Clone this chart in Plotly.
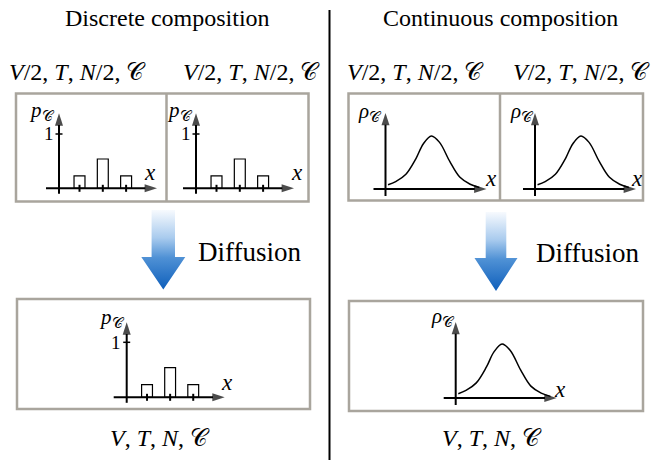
import plotly.graph_objects as go

W, H = 663, 460

# Discrete composition: probability of each species x
species_pos = [1, 2, 3]
species_prob = [0.23, 0.54, 0.23]

# Continuous composition: density sampled along x
density_x = [0.25, 1.0, 2.0, 3.0, 3.7, 4.5, 5.3, 6.3, 7.3, 8.3, 9.2]
density_y = [0.08, 0.14, 0.28, 0.58, 0.85, 1.0, 0.88, 0.52, 0.22, 0.09, 0.03]

column_titles = ["Discrete composition", "Continuous composition"]
half_state = "<i>V</i>/2, <i>T</i>, <i>N</i>/2, 𝒞"
full_state = "<i>V</i>, <i>T</i>, <i>N</i>, 𝒞"
process_label = "Diffusion"
prob_label = "<i>p</i><sub>𝒞</sub>"
dens_label = "<i>ρ</i><sub>𝒞</sub>"
x_label = "<i>x</i>"
unit_tick = "1"

SERIF = "'Liberation Serif', 'DejaVu Serif', serif"
BOX = "#a9a59d"


def px(x):
    return x / W


def py(y):
    return 1 - y / H


fig = go.Figure()
layout = dict(
    width=W, height=H, margin=dict(l=0, r=0, t=0, b=0),
    paper_bgcolor="white", plot_bgcolor="rgba(0,0,0,0)", showlegend=False,
)
shapes = []
annotations = []

# vertical position of the histogram's ordinate axis (data units)
AX0 = 0.12

# kind, ordinate column (px), abscissa row (px), px per unit x, px per unit y, region
panels = [
    ("discrete", 59, 188.3, 23.3, 54.3, (17, 94, 165, 201)),
    ("discrete", 196, 188.3, 23.3, 54.3, (167, 94, 308, 201)),
    ("discrete", 126.7, 397.3, 23.1, 55.0, (18, 300, 309, 408)),
    ("continuous", 385.5, 189, 10.2, 53, (349, 94, 499, 200)),
    ("continuous", 535, 189, 10.2, 53, (501, 94, 642, 200)),
    ("continuous", 455.7, 398, 10.3, 54, (350, 302, 642, 410)),
]


def axis_arrow(xr, yr, xs, ys):
    """Axis line ending in a filled arrowhead at its second point."""
    return go.Scatter(
        x=xs, y=ys, mode="lines+markers", xaxis=xr, yaxis=yr,
        line=dict(color="black", width=2),
        marker=dict(symbol=["circle", "arrow"], size=[0, 13], angleref="previous",
                    color="black", line=dict(width=0)),
        hoverinfo="skip",
    )


for i, (kind, ypx, xpy, sx, sy, (bx0, by0, bx1, by1)) in enumerate(panels, start=1):
    sfx = "" if i == 1 else str(i)
    xr, yr = "x" + sfx, "y" + sfx
    x_origin = AX0 if kind == "discrete" else 0.0
    layout["xaxis" + sfx] = dict(
        domain=[px(bx0), px(bx1)],
        range=[x_origin + (bx0 - ypx) / sx, x_origin + (bx1 - ypx) / sx],
        visible=False, anchor=yr, fixedrange=True,
    )
    layout["yaxis" + sfx] = dict(
        domain=[py(by1), py(by0)],
        range=[(xpy - by1) / sy, (xpy - by0) / sy],
        visible=False, anchor=xr, fixedrange=True,
    )
    if kind == "discrete":
        fig.add_trace(go.Bar(
            x=species_pos, y=species_prob, width=0.47,
            marker=dict(color="white", line=dict(color="black", width=1.2)),
            xaxis=xr, yaxis=yr, hoverinfo="skip",
        ))
        for p in species_pos:
            shapes.append(dict(type="line", xref=xr, yref=yr, x0=p, x1=p,
                               y0=-3.5 / sy, y1=3.5 / sy,
                               line=dict(color="black", width=2)))
        shapes.append(dict(type="line", xref=xr, yref=yr,
                           x0=x_origin - 3.5 / sx, x1=x_origin + 3.5 / sx,
                           y0=1, y1=1, line=dict(color="black", width=1.5)))
        x_tail, x_tip = x_origin - 13 / sx, x_origin + 98 / sx
        y_tail, y_tip = -5.5 / sy, 75 / sy
    else:
        fig.add_trace(go.Scatter(
            x=density_x, y=density_y, mode="lines",
            line=dict(color="black", width=1.5, shape="spline", smoothing=1),
            xaxis=xr, yaxis=yr, hoverinfo="skip",
        ))
        x_tail, x_tip = -12 / sx, 101 / sx
        y_tail, y_tip = -7 / sy, 76 / sy
    fig.add_trace(axis_arrow(xr, yr, [x_tail, x_tip], [0, 0]))
    fig.add_trace(axis_arrow(xr, yr, [x_origin, x_origin], [y_tail, y_tip]))

# full-figure canvas for the process arrows
layout["xaxis7"] = dict(domain=[0, 1], range=[0, W], visible=False, anchor="y7", fixedrange=True)
layout["yaxis7"] = dict(domain=[0, 1], range=[H, 0], visible=False, anchor="x7", fixedrange=True)


def block_arrow(cx, top, neck, tip, shaft_hw, head_hw):
    xs = [cx - shaft_hw, cx + shaft_hw, cx + shaft_hw, cx + head_hw, cx,
          cx - head_hw, cx - shaft_hw, cx - shaft_hw]
    ys = [top, top, neck, neck, tip, neck, neck, top]
    # gradient runs from the tip (dark) up to the tail (pale)
    return go.Scatter(
        x=xs, y=ys, mode="none", fill="toself",
        fillgradient=dict(type="vertical", colorscale=[
            [0.0, "#0f5fbb"], [0.4, "#4f91d5"], [0.65, "#a9cbee"], [1.0, "#f7fafe"]]),
        xaxis="x7", yaxis="y7", hoverinfo="skip",
    )


fig.add_trace(block_arrow(163.3, 210, 257, 289.5, 11.7, 22))
fig.add_trace(block_arrow(496, 212, 258, 291, 10.3, 21.5))

# panel frames
for (x0, y0, x1, y1) in [(16, 93.5, 308.5, 201.5), (348.5, 93.5, 643, 200.5),
                         (17, 299, 310, 409), (349, 301, 643, 411)]:
    shapes.append(dict(type="rect", xref="paper", yref="paper",
                       x0=px(x0), x1=px(x1), y0=py(y1), y1=py(y0),
                       line=dict(color=BOX, width=2.5)))
for (x, y0, y1) in [(166.5, 93.5, 201.5), (500, 93.5, 200.5)]:
    shapes.append(dict(type="line", xref="paper", yref="paper",
                       x0=px(x), x1=px(x), y0=py(y1), y1=py(y0),
                       line=dict(color=BOX, width=2.5)))

# column separator
shapes.append(dict(type="line", xref="paper", yref="paper",
                   x0=px(329.5), x1=px(329.5), y0=py(460), y1=py(10),
                   line=dict(color="black", width=2)))


def label(text, x, y, size):
    annotations.append(dict(
        text=text, x=px(x), y=py(y), xref="paper", yref="paper",
        showarrow=False, xanchor="center", yanchor="middle",
        font=dict(family=SERIF, size=size, color="black"),
    ))


label(column_titles[0], 167, 18, 24)
label(column_titles[1], 500, 18, 24)
for x in (77, 251, 415, 581):
    label(half_state, x, 72, 24)
label(full_state, 160, 438, 24)
label(full_state, 492, 438, 24)
label(process_label, 250, 252, 27)
label(process_label, 588, 253, 27)

for (x, y) in [(42, 111), (180, 111), (112, 318)]:
    label(prob_label, x, y, 21)
for (x, y) in [(49, 133), (186, 133), (116, 342)]:
    label(unit_tick, x, y, 19)
for (x, y) in [(150, 173), (297, 173), (227, 382), (491, 178), (637, 178), (560, 389)]:
    label(x_label, x, y, 23)
for (x, y) in [(370, 112), (522, 112), (443, 317)]:
    label(dens_label, x, y, 21)

layout["shapes"] = shapes
layout["annotations"] = annotations
fig.update_layout(**layout)
fig.write_html("out.html")
